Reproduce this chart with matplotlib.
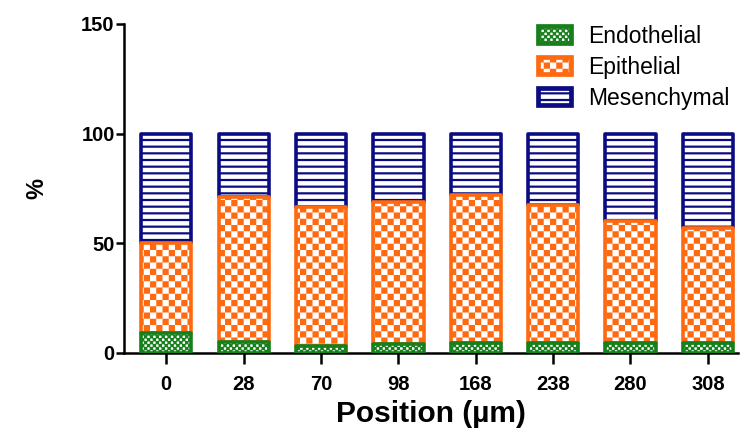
import numpy as np
import matplotlib
matplotlib.use('Agg')
import matplotlib.pyplot as plt
import matplotlib.hatch as mhatch
from matplotlib.path import Path
from matplotlib.patches import Patch

positions = ['0', '28', '70', '98', '168', '238', '280', '308']
endothelial = [9, 5, 3, 4, 4.5, 4.5, 4.5, 4.5]
epithelial = [41, 66, 63.5, 65, 67.5, 63, 55.5, 52.5]
mesenchymal = [50, 29, 33.5, 31, 28, 32.5, 40, 43]

green = '#17801c'
orange = '#ff6a10'
navy = '#0c0c82'


# GraphPad-like fills: checkerboards and thick stripes, drawn as filled hatch shapes
class Checker(mhatch.HatchPatternBase):
    char = 'o'
    cells = 16
    grow = 0.0

    def __init__(self, hatch, density):
        n = self.cells if (hatch and self.char in hatch) else 0
        self.squares = [(i, j) for i in range(n) for j in range(n) if (i + j) % 2 == 0]
        self.num_vertices = 5 * len(self.squares)

    def set_vertices_and_codes(self, vertices, codes):
        s = 1.0 / self.cells
        g = self.grow * s
        unit = np.array([[0, 0], [1, 0], [1, 1], [0, 1], [0, 0]], float) * (s + 2 * g) - g
        vertices[:] = np.concatenate([unit + [i * s, j * s] for i, j in self.squares])
        codes[:] = np.tile([Path.MOVETO, Path.LINETO, Path.LINETO,
                            Path.LINETO, Path.CLOSEPOLY], len(self.squares))


class FineChecker(Checker):
    char = 'O'
    cells = 34
    grow = 0.08


class Stripes(mhatch.HatchPatternBase):
    lines = 15
    thick = 0.022

    def __init__(self, hatch, density):
        self.n = self.lines + 1 if (hatch and '-' in hatch) else 0
        self.num_vertices = 5 * self.n

    def set_vertices_and_codes(self, vertices, codes):
        h = self.thick / 2
        parts = []
        for k in range(self.n):
            y = k / self.lines
            parts.append([[0, y - h], [1, y - h], [1, y + h], [0, y + h], [0, y - h]])
        vertices[:] = np.concatenate(parts)
        codes[:] = np.tile([Path.MOVETO, Path.LINETO, Path.LINETO,
                            Path.LINETO, Path.CLOSEPOLY], self.n)


mhatch._hatch_types[:] = [Stripes, Checker, FineChecker]

plt.rcParams['font.family'] = ['Liberation Sans', 'DejaVu Sans']
plt.rcParams['font.weight'] = 'bold'
plt.rcParams['hatch.linewidth'] = 0.0

fig = plt.figure(figsize=(7.5, 4.34), dpi=100)
ax = fig.add_axes([0.165, 0.187, 0.819, 0.758])

x = np.arange(len(positions))
w = 0.65
lw = 2.6
endo = np.array(endothelial)
epi = np.array(epithelial)
mes = np.array(mesenchymal)

ax.bar(x, mes, w, bottom=endo + epi, facecolor='white', edgecolor=navy,
       hatch='-', linewidth=lw, joinstyle='round', zorder=2)
ax.bar(x, epi, w, bottom=endo, facecolor='white', edgecolor=orange,
       hatch='o', linewidth=lw, joinstyle='round', zorder=3)
ax.bar(x, endo, w, facecolor='white', edgecolor=green,
       hatch='O', linewidth=lw, joinstyle='round', zorder=4)

ax.set_xlim(-0.55, 7.39)
ax.set_ylim(0, 150)
ax.set_yticks([0, 50, 100, 150])
ax.set_xticks(x)
ax.set_xticklabels(positions)
ax.tick_params(axis='both', labelsize=14.5, width=1.8, direction='out')
ax.tick_params(axis='y', length=6, pad=0.5)
ax.tick_params(axis='x', length=8, pad=8)
for s in ['top', 'right']:
    ax.spines[s].set_visible(False)
for s in ['left', 'bottom']:
    ax.spines[s].set_linewidth(1.8)

ax.set_xlabel('Position (µm)', fontsize=21.5, fontweight='bold', labelpad=4)
ax.set_ylabel('%', fontsize=17, fontweight='bold', labelpad=24)

handles = [
    Patch(facecolor='white', edgecolor=green, hatch='O', linewidth=3.4, label='Endothelial'),
    Patch(facecolor='white', edgecolor=orange, hatch='o', linewidth=3.4, label='Epithelial'),
    Patch(facecolor='white', edgecolor=navy, hatch='-', linewidth=3.4, label='Mesenchymal'),
]
leg = ax.legend(handles=handles, loc='upper left', bbox_to_anchor=(0.641, 1.06),
                frameon=False, handlelength=1.42, handleheight=0.78,
                handletextpad=0.75, labelspacing=0.35,
                prop={'family': ['Liberation Sans', 'DejaVu Sans'], 'weight': 'normal', 'size': 16.5})

fig.savefig('out.png', dpi=100, facecolor='white')
